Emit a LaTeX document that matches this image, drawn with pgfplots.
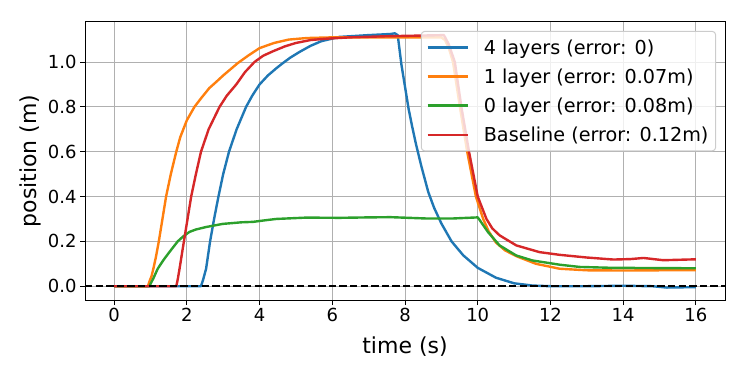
\documentclass[border=0pt]{standalone}
\usepackage{fontspec}
\setmainfont{DejaVu Sans}
\usepackage{pgfplots}
\pgfplotsset{compat=1.18}

\definecolor{tabblue}{HTML}{1F77B4}
\definecolor{taborange}{HTML}{FF7F0E}
\definecolor{tabgreen}{HTML}{2CA02C}
\definecolor{tabred}{HTML}{D62728}
\definecolor{gridgray}{HTML}{B0B0B0}
\definecolor{legedge}{HTML}{CCCCCC}

\begin{document}
\begin{tikzpicture}
\begin{axis}[
    scale only axis,
    width=640bp, height=278bp,
    xmin=-0.8, xmax=16.8,
    ymin=-0.0615, ymax=1.1785,
    xtick={0,2,...,16},
    ytick={0,0.2,0.4,0.6,0.8,1.0},
    yticklabel style={/pgf/number format/.cd, fixed, fixed zerofill, precision=1},
    /pgf/number format/assume math mode=true,
    tick label style={font=\fontsize{18bp}{21bp}\selectfont},
    label style={font=\fontsize{22bp}{26bp}\selectfont},
    xlabel={time (s)},
    ylabel={position (m)},
    xlabel style={yshift=-8bp},
    grid=major,
    major grid style={gridgray, line width=1bp},
    axis line style={black, line width=1bp},
    tick align=outside,
    tick pos=left,
    major tick length=5bp,
    tick style={black, line width=1bp},
    every axis plot/.append style={line width=2.4bp, line join=round},
    legend cell align=left,
    legend image code/.code={\draw[#1] (0bp,0bp) -- (40bp,0bp); \path (53bp,0bp);},
    legend style={
        font=\fontsize{19.2bp}{23bp}\selectfont,
        at={(1,1)}, anchor=north east, xshift=-9bp, yshift=-9bp,
        draw=legedge, line width=1bp, fill=white, fill opacity=0.8, text opacity=1,
        rounded corners=3bp, inner xsep=5bp, inner ysep=6bp,
        row sep=9bp,
    },
]
% 4 layers
\addplot[tabblue] coordinates {
(0,0) (2.39,0) (2.45,0.03) (2.53,0.078) (2.64,0.2) (2.75,0.3) (2.87,0.4)
(3.0,0.5) (3.16,0.6) (3.37,0.7) (3.63,0.8) (3.8,0.85) (4.0,0.9) (4.23,0.94)
(4.46,0.972) (4.64,0.995) (4.85,1.02) (5.1,1.045) (5.4,1.072) (5.7,1.093)
(6.2,1.112) (7,1.12) (7.6,1.125) (7.72,1.128) (7.8,1.12) (7.9,0.99) (8.0,0.89)
(8.1,0.79) (8.2,0.71) (8.3,0.635) (8.45,0.535) (8.64,0.42) (8.8,0.35) (9.0,0.28)
(9.28,0.2) (9.6,0.138) (10.0,0.082) (10.5,0.038) (11.0,0.013) (11.5,0.003)
(12,0.0) (13,0.0) (14,0.002) (14.8,0) (15.2,-0.006) (16,-0.004)
};
\addlegendentry{4 layers (error: 0)}
% 1 layer
\addplot[taborange] coordinates {
(0,0) (0.93,0) (0.97,0.02) (1.03,0.045) (1.08,0.078) (1.15,0.13) (1.23,0.2)
(1.33,0.3) (1.43,0.4) (1.56,0.5) (1.71,0.6) (1.82,0.665) (2.0,0.74) (2.21,0.8)
(2.4,0.84) (2.62,0.884) (2.8,0.91) (3.0,0.94) (3.4,0.995) (3.7,1.03) (4.0,1.062)
(4.4,1.085) (4.8,1.1) (5.3,1.107) (6,1.11) (7,1.11) (8,1.11) (9.0,1.11)
(9.1,1.098) (9.2,1.065) (9.32,1.0) (9.51,0.8) (9.71,0.6) (9.95,0.4) (10.15,0.3)
(10.3,0.245) (10.5,0.195) (10.75,0.16) (11.06,0.134) (11.6,0.1) (12.25,0.078)
(13,0.071) (14,0.07) (15,0.071) (16,0.071)
};
\addlegendentry{1 layer (error: 0.07m)}
% 0 layer
\addplot[tabgreen] coordinates {
(0,0) (0.97,0) (1.08,0.035) (1.2,0.078) (1.35,0.115) (1.52,0.152) (1.75,0.2)
(1.9,0.222) (2.07,0.242) (2.25,0.253) (2.53,0.264) (2.99,0.278) (3.5,0.285)
(3.82,0.287) (4.2,0.295) (4.46,0.30) (5.28,0.306) (6.2,0.305) (7.0,0.307)
(7.6,0.308) (8.6,0.302) (9.3,0.302) (10.0,0.307) (10.05,0.296) (10.28,0.242)
(10.6,0.182) (11.06,0.137) (11.5,0.115) (12.25,0.096) (12.8,0.086)
(13.7,0.082) (16,0.08)
};
\addlegendentry{0 layer (error: 0.08m)}
% Baseline
\addplot[tabred] coordinates {
(0,0) (1.71,0) (1.75,0.03) (1.80,0.078) (1.92,0.2) (2.02,0.3) (2.12,0.4)
(2.25,0.5) (2.39,0.6) (2.6,0.7) (2.9,0.8) (3.1,0.85) (3.36,0.9) (3.6,0.955)
(3.86,1.0) (4.1,1.028) (4.37,1.048) (4.7,1.07) (5.0,1.085) (5.4,1.098)
(5.83,1.104) (6.5,1.11) (7.5,1.115) (9.07,1.12) (9.2,1.08) (9.37,1.0)
(9.55,0.8) (9.76,0.6) (10.0,0.4) (10.24,0.3) (10.4,0.258) (10.6,0.227)
(11.06,0.182) (11.7,0.152) (12.25,0.14) (13.0,0.128) (13.73,0.119)
(14.2,0.121) (14.56,0.126) (15.1,0.116) (16,0.12)
};
\addlegendentry{Baseline (error: 0.12m)}
% zero reference
\addplot[black, dash pattern=on 7.4bp off 3.2bp, forget plot] coordinates {(-0.8,0) (16.8,0)};
\end{axis}
\path ([shift={(-85bp,-74bp)}]current axis.south west) rectangle ([shift={(22bp,22bp)}]current axis.north east);
\end{tikzpicture}
\end{document}
